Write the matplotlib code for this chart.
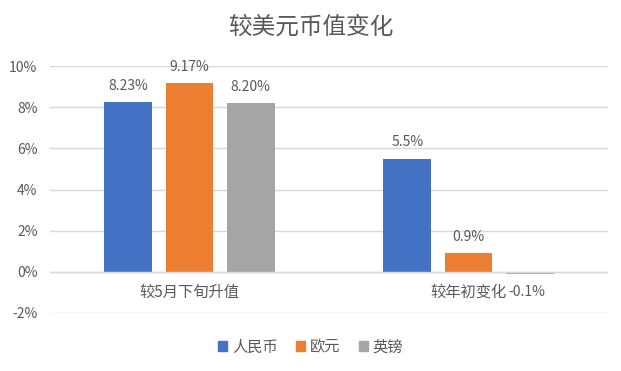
import numpy as np
import matplotlib
matplotlib.use("Agg")
import matplotlib.pyplot as plt
from matplotlib.patches import Patch

plt.rcParams['font.family'] = ['Noto Sans CJK SC', 'DejaVu Sans']

title = '较美元币值变化'
categories = ['较5月下旬升值', '较年初变化']
series_names = ['人民币', '欧元', '英镑']
values = [
    [8.23, 5.5],   # 人民币
    [9.17, 0.9],   # 欧元
    [8.20, -0.1],  # 英镑
]
labels = [
    ['8.23%', '5.5%'],
    ['9.17%', '0.9%'],
    ['8.20%', '-0.1%'],
]
colors = ['#4472C4', '#ED7D31', '#A5A5A5']
yticks = [-2, 0, 2, 4, 6, 8, 10]

txt = '#595959'

fig = plt.figure(figsize=(6.21, 3.71), dpi=100)
ax = fig.add_axes([50/621, 58/371, 558/621, 247/371])

x = np.arange(len(categories))
width = 0.172
step = 0.219
for i, name in enumerate(series_names):
    pos = x + (i - 1) * step
    ax.bar(pos, values[i], width, color=colors[i], zorder=3)
    for p, v, lab in zip(pos, values[i], labels[i]):
        if v >= 0:
            ax.text(p, v + 0.45, lab, ha='center', va='bottom', fontsize=10, color=txt)
        else:
            ax.text(p - 0.01, -1.0, lab, ha='center', va='center', fontsize=10, color=txt)

# category labels below zero line
for xi, c in zip(x, categories):
    ax.text(xi, -1.0, c, ha='center', va='center', fontsize=11, color=txt)

ax.set_xlim(-0.5, 1.5)
ax.set_ylim(-2, 10)
ax.set_yticks(yticks)
ax.set_yticklabels([f'{t}%' for t in yticks], fontsize=10, color=txt)
ax.set_xticks([])
ax.tick_params(axis='y', length=0, pad=9)
ax.grid(axis='y', color='#D9D9D9', linewidth=1, zorder=0)
ax.axhline(0, color='#D9D9D9', linewidth=1, zorder=4)
for s in ax.spines.values():
    s.set_visible(False)

fig.text(0.5, 1 - 27/371, title, ha='center', va='center', fontsize=17, color=txt)

handles = [Patch(color=c) for c in colors]
fig.legend(handles, series_names, loc='center', bbox_to_anchor=(0.5, 1 - 347/371),
           ncol=3, frameon=False, fontsize=11, handlelength=0.6, handleheight=0.6,
           handletextpad=0.3, columnspacing=1.2, labelcolor=txt)

fig.savefig('out.png', dpi=100)
